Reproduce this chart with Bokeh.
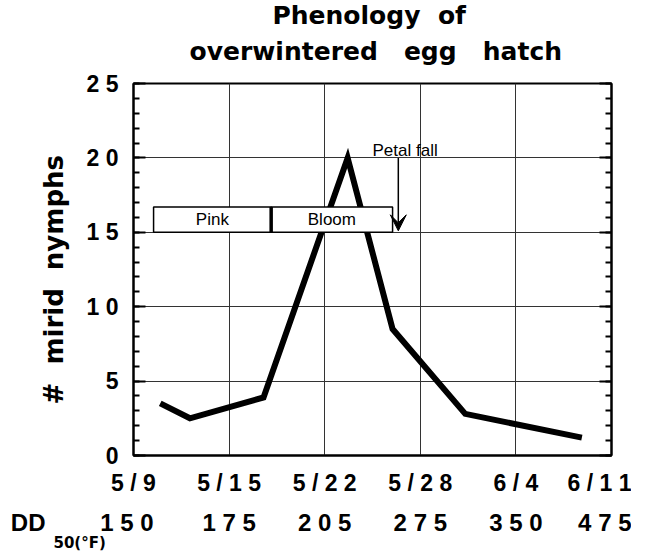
from bokeh.plotting import figure
from bokeh.models import LinearAxis, FixedTicker, Label, Arrow, VeeHead, Range1d, Grid, Title
from bokeh.embed import file_html
from bokeh.resources import INLINE
from bokeh.core.properties import value

# ---- data ----
tick_pos = [0, 1, 2, 3, 4, 5]
date_labels = ["5 / 9", "5 / 1 5", "5 / 2 2", "5 / 2 8", "6 / 4", "6 / 1 1"]
dd_labels = ["1 5 0", "1 7 5", "2 0 5", "2 7 5", "3 5 0", "4 7 5"]
dd_name = "DD"
dd_sub = "50(°F)"
y_ticks = [0, 5, 10, 15, 20, 25]
y_tick_labels = ["0", "5", "1 0", "1 5", "2 0", "2 5"]

sample_x = [0.28, 0.59, 1.36, 2.24, 2.71, 3.47, 4.69]
nymphs = [3.5, 2.5, 3.9, 20.0, 8.5, 2.8, 1.2]

stage_names = ["Pink", "Bloom"]
stage_start = [0.21, 1.44]
stage_end = [1.44, 2.71]
stage_low = 15.0
stage_high = 16.7

petal_fall_x = 2.77
petal_fall_top = 20.0
petal_fall_tip = 15.1

BOLD = "Liberation Sans"
NB = "\u00a0"
EN = "\u2002"

p = figure(width=631, height=552, x_range=Range1d(0, 5), y_range=Range1d(0, 25),
           output_backend="svg", toolbar_location=None,
           x_axis_location=None, y_axis_location=None,
           min_border_left=133, min_border_right=20, min_border_top=83, min_border_bottom=97)
p.grid.visible = False
p.outline_line_color = "black"
p.outline_line_width = 2

# title: two lines (first added sits next to the frame)
t2 = Title(text="overwintered" + NB * 3 + "egg" + NB * 3 + "hatch", align="left",
           offset=56, standoff=35, text_font="DejaVu Sans", text_font_style="bold",
           text_font_size="25px", text_color="black")
p.add_layout(t2, "above")
t1 = Title(text="Phenology" + NB * 2 + "of", align="left", offset=139, standoff=-24,
           text_font="DejaVu Sans", text_font_style="bold", text_font_size="25px",
           text_color="black")
p.add_layout(t1, "above")

# gridlines
p.add_layout(Grid(dimension=0, ticker=FixedTicker(ticks=tick_pos[1:-1]),
                  grid_line_color="#333333", grid_line_width=1))
p.add_layout(Grid(dimension=1, ticker=FixedTicker(ticks=y_ticks[1:-1]),
                  grid_line_color="#333333", grid_line_width=1))

# x axis (dates)
xax = LinearAxis(ticker=FixedTicker(ticks=tick_pos),
                 major_label_overrides={t: s for t, s in zip(tick_pos, date_labels)})
xax.axis_line_width = 2
xax.major_tick_line_color = None
xax.minor_tick_line_color = None
xax.major_label_standoff = 8
xax.major_label_text_font = BOLD
xax.major_label_text_font_style = "bold"
xax.major_label_text_font_size = "23px"
xax.major_label_text_color = "black"
p.add_layout(xax, "below")

# DD row ("DD" shares the first label so that it sits on the same line)
dd_row = list(dd_labels)
dd_row[0] = dd_name + EN * 4 + NB + dd_labels[0] + EN * 8 + NB
ddax = LinearAxis(ticker=FixedTicker(ticks=tick_pos),
                  major_label_overrides={t: s for t, s in zip(tick_pos, dd_row)})
ddax.axis_line_color = None
ddax.major_tick_line_color = None
ddax.minor_tick_line_color = None
ddax.major_label_standoff = 4
ddax.major_label_text_font = BOLD
ddax.major_label_text_font_style = "bold"
ddax.major_label_text_font_size = "24px"
ddax.major_label_text_color = "black"
p.add_layout(ddax, "below")

# subscript under "DD"
tsub = Title(text=dd_sub, align="left", offset=-80, standoff=-10, vertical_align="top",
             text_font="DejaVu Sans", text_font_style="bold", text_font_size="15px",
             text_color="black")
p.add_layout(tsub, "below")

# y axis
def make_y(labels):
    ax = LinearAxis(ticker=FixedTicker(ticks=y_ticks, minor_ticks=list(range(0, 26))),
                    major_label_overrides={t: s for t, s in zip(y_ticks, labels)})
    ax.axis_line_width = 2
    ax.major_tick_in = 12
    ax.major_tick_out = 0
    ax.minor_tick_in = 6
    ax.minor_tick_out = 0
    ax.major_tick_line_width = 2
    ax.minor_tick_line_width = 2
    ax.major_label_standoff = 15
    ax.major_label_text_font = BOLD
    ax.major_label_text_font_style = "bold"
    ax.major_label_text_font_size = "23px"
    ax.major_label_text_color = "black"
    return ax

yax = make_y(y_tick_labels)
p.add_layout(yax, "left")

ytitle = Title(text="#" + NB * 2 + "mirid" + NB * 2 + "nymphs", align="left",
               offset=51, standoff=30, text_font="DejaVu Sans", text_font_style="bold",
               text_font_size="26px", text_color="black")
p.add_layout(ytitle, "left")

yax_r = make_y([""] * len(y_ticks))
yax_r.major_label_standoff = 0
p.add_layout(yax_r, "right")

# data line
p.line(sample_x, nymphs, line_width=6, line_color="black", line_join="miter")

# phenology stages
p.quad(left=stage_start, right=stage_end, bottom=[stage_low] * 2, top=[stage_high] * 2,
       fill_color="white", line_color="black", line_width=1.5)
p.segment(x0=[stage_end[0]], y0=[stage_low], x1=[stage_end[0]], y1=[stage_high],
          line_color="black", line_width=3.5)
p.text(x=[(a + b) / 2 for a, b in zip(stage_start, stage_end)],
       y=[(stage_low + stage_high) / 2] * 2, text=stage_names,
       text_font=value("Liberation Sans"), text_font_size="17px",
       text_align="center", text_baseline="middle", text_color="black")

# petal fall arrow
p.add_layout(Arrow(end=VeeHead(size=16, fill_color="black", line_color="black"),
                   x_start=petal_fall_x, y_start=petal_fall_top,
                   x_end=petal_fall_x, y_end=petal_fall_tip,
                   line_color="black", line_width=1.5))
p.add_layout(Label(x=2.5, y=20.47, text="Petal fall", text_font="Liberation Sans",
                   text_font_size="17px", text_baseline="alphabetic", text_color="black"))

open("out.html", "w").write(file_html(p, INLINE))
